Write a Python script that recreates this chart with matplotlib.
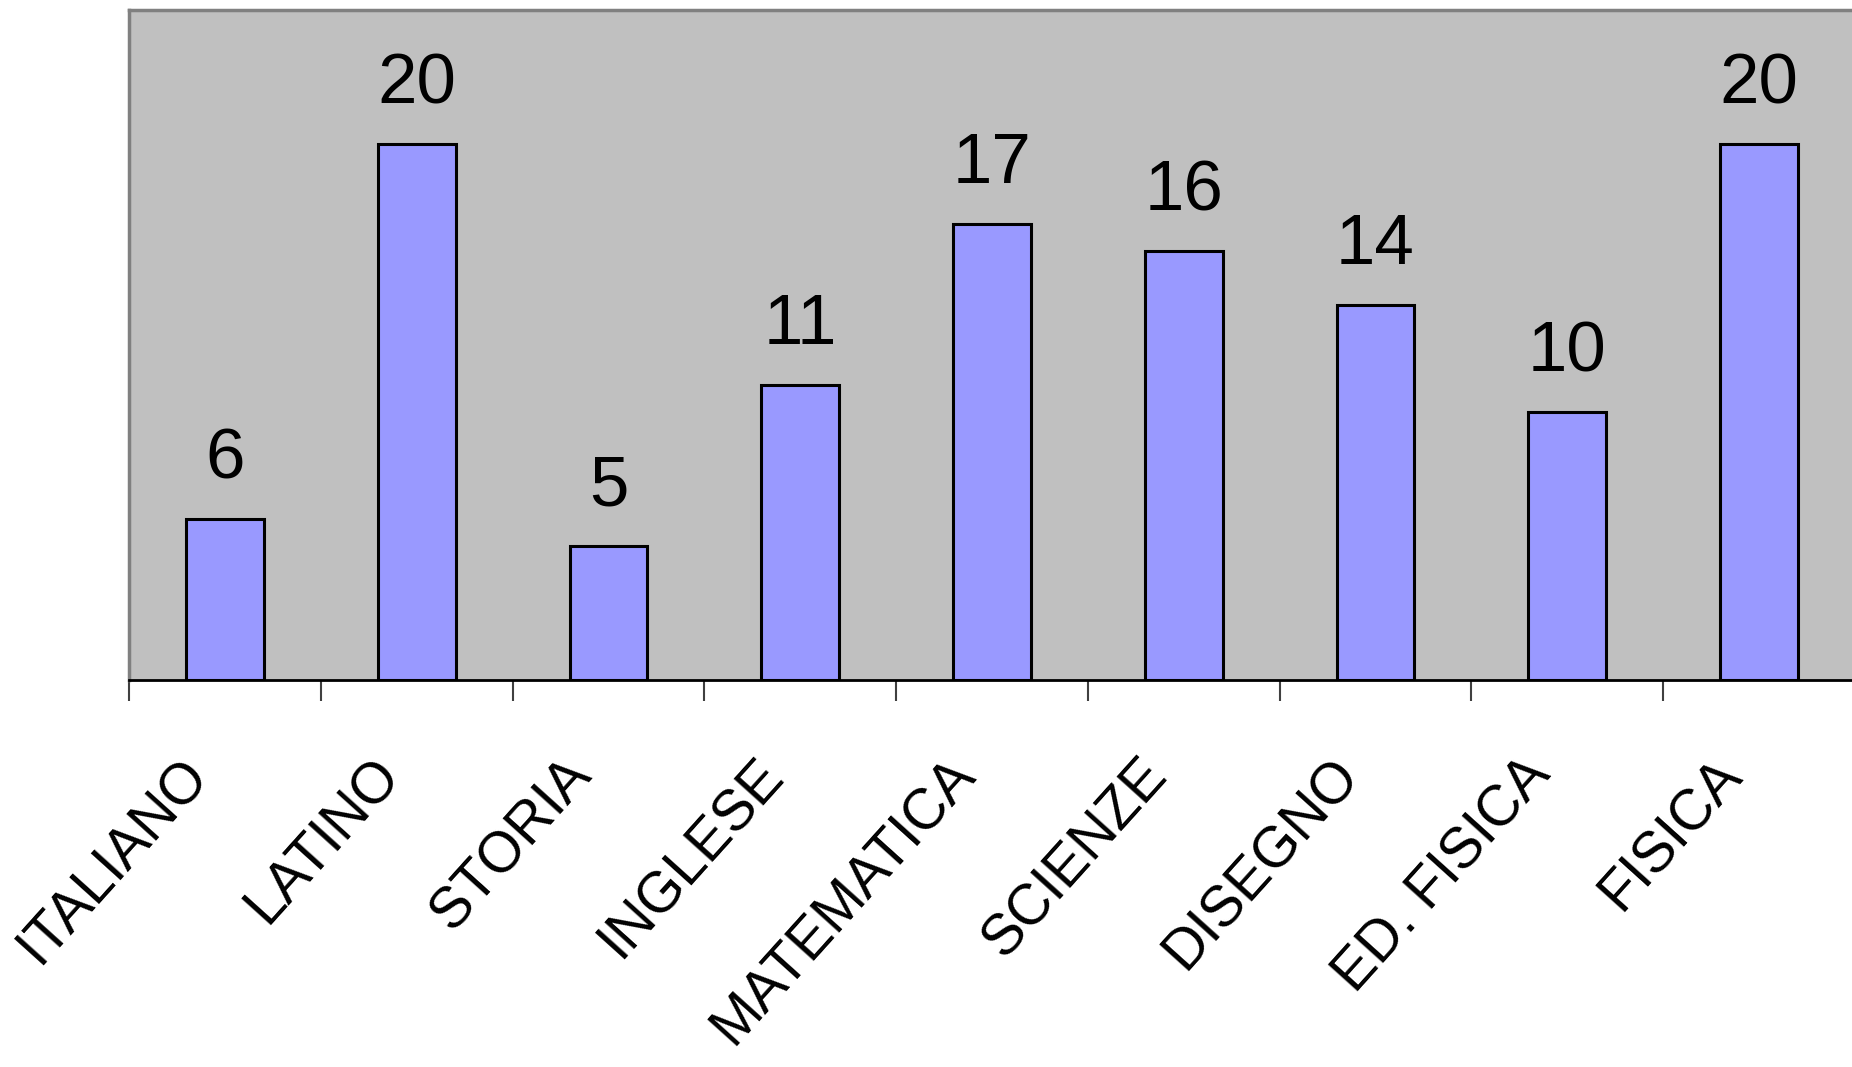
#!/usr/bin/env python3
# -*- coding: utf-8 -*-
"""
Bar chart of the counts per subject (Excel-style grey plot area).
"""

import numpy as np
import matplotlib
matplotlib.use('Agg')
import matplotlib.pyplot as plt

# Data
materie = ['ITALIANO', 'LATINO', 'STORIA', 'INGLESE', 'MATEMATICA',
           'SCIENZE', 'DISEGNO', 'ED. FISICA', 'FISICA']
valori = [6, 20, 5, 11, 17, 16, 14, 10, 20]

plt.rcParams['font.family'] = ['Liberation Sans', 'DejaVu Sans']

fig = plt.figure(figsize=(18.52, 10.67), dpi=100)
ax = fig.add_axes([129 / 1852, 1 - 680 / 1067, 1726 / 1852, 670 / 1067])
ax.set_facecolor('#C0C0C0')

x = np.arange(len(materie))
ax.bar(x, valori, width=0.405, color='#9999FF', edgecolor='black',
       linewidth=2.2, zorder=2)

ax.set_xlim(-0.5, len(materie) - 0.5)
ax.set_ylim(0, 25)

# spines: grey frame, black category axis
for side in ['top', 'left', 'right']:
    ax.spines[side].set_color('#808080')
    ax.spines[side].set_linewidth(2.5)
ax.spines['bottom'].set_color('black')
ax.spines['bottom'].set_linewidth(2)
ax.spines['bottom'].set_zorder(3)

# ticks between the categories, no y axis
ax.set_yticks([])
ax.set_xticks(np.arange(len(materie) + 1) - 0.5)
ax.set_xticklabels([])
ax.tick_params(axis='x', length=15, width=1.5, color='#404040',
               direction='out')

# value labels above bars
for xi, v in zip(x, valori):
    ax.annotate(str(v), xy=(xi, v), xytext=(0, 41),
                textcoords='offset pixels', ha='center', va='baseline',
                fontsize=51, color='black')

# rotated category labels
for xi, nome in zip(x, materie):
    ax.annotate(nome, xy=(xi, 0), xycoords=('data', 'axes fraction'),
                xytext=(-6, -68), textcoords='offset pixels',
                rotation=48, ha='right', va='top', fontsize=41,
                color='black', annotation_clip=False)

fig.savefig('out.png', dpi=100)
